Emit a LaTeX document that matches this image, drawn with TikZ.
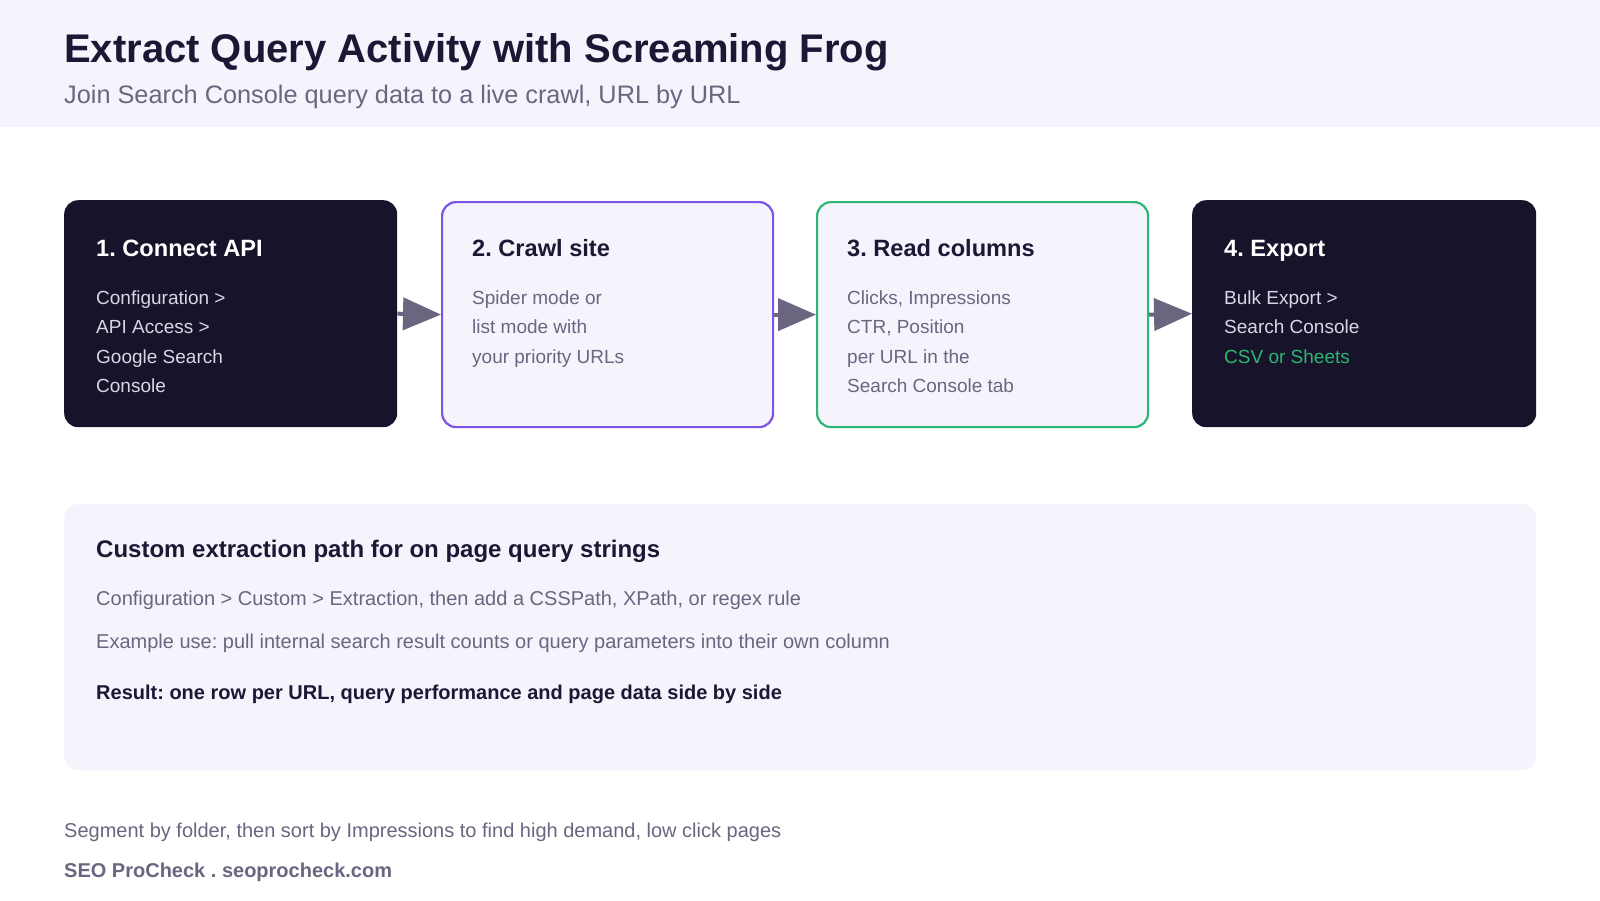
\documentclass[tikz,border=0pt]{standalone}
\usepackage{fontspec}
\setmainfont{Liberation Sans}
\usetikzlibrary{arrows.meta,positioning}
\definecolor{ink}{HTML}{16132A}
\definecolor{inkhead}{HTML}{1B1734}
\definecolor{mute}{HTML}{6B6580}
\definecolor{wash}{HTML}{F5F4FC}
\definecolor{pale}{HTML}{D9D6E6}
\definecolor{violet}{HTML}{7C55E6}
\definecolor{mint}{HTML}{2BB673}
\frenchspacing
\begin{document}
\begin{tikzpicture}[x=1pt,y=-1pt,line join=round,
  stepbox/.style={anchor=north west,inner sep=0pt,rounded corners=14pt,
    minimum width=333pt,minimum height=227pt},
  darkstep/.style={stepbox,fill=ink},
  lightstep/.style={stepbox,fill=wash,line width=2.2pt,
    minimum width=331pt,minimum height=225pt},
  stephead/.style={anchor=base west,inner sep=0pt,font=\fontsize{23.6}{28}\selectfont\bfseries},
  stepbody/.style={anchor=base west,inner sep=0pt,font=\fontsize{19}{23}\selectfont},
  note/.style={anchor=base west,inner sep=0pt,font=\fontsize{20}{24}\selectfont},
  flow/.style={mute,line width=4pt,-{Triangle[length=38pt,width=32pt]}}]
  \useasboundingbox (0,0) rectangle (1600,900);
  \fill[white] (0,0) rectangle (1600,900);
  \fill[wash] (0,0) rectangle (1600,127);
  % header
  \node[anchor=base west,inner sep=0pt,text=inkhead,font=\fontsize{40}{48}\selectfont\bfseries]
    (title) at (64,62) {Extract Query Activity with Screaming Frog};
  \node[anchor=base west,inner sep=0pt,text=mute,font=\fontsize{25.3}{30}\selectfont]
    (subtitle) at (64,103) {Join Search Console query data to a live crawl, URL by URL};
  % the four steps
  \node[darkstep] (connect) at (64,200) {};
  \node[lightstep,draw=violet] (crawl) at (441,201) {};
  \node[lightstep,draw=mint] (columns) at (816,201) {};
  \node[darkstep,minimum width=344pt] (export) at (1192,200) {};
  \node[stephead,text=white] at ([xshift=32pt,yshift=-56pt]connect.north west) {1. Connect API};
  \foreach \line [count=\i] in {Configuration >,API Access >,Google Search,Console}
    \node[stepbody,text=pale] at ([xshift=32pt,yshift={-104pt-29.5pt*(\i-1)}]connect.north west) {\line};
  \node[stephead,text=inkhead] at ([xshift=31pt,yshift=-55pt]crawl.north west) {2. Crawl site};
  \foreach \line [count=\i] in {Spider mode or,list mode with,your priority URLs}
    \node[stepbody,text=mute] at ([xshift=31pt,yshift={-103pt-29.5pt*(\i-1)}]crawl.north west) {\line};
  \node[stephead,text=inkhead] at ([xshift=31pt,yshift=-55pt]columns.north west) {3. Read columns};
  \foreach \line [count=\i] in {{Clicks, Impressions},{CTR, Position},per URL in the,Search Console tab}
    \node[stepbody,text=mute] at ([xshift=31pt,yshift={-103pt-29.5pt*(\i-1)}]columns.north west) {\line};
  \node[stephead,text=white] at ([xshift=32pt,yshift=-56pt]export.north west) {4. Export};
  \foreach \line [count=\i] in {Bulk Export >,Search Console,{\textcolor{mint}{CSV or Sheets}}}
    \node[stepbody,text=pale] at ([xshift=32pt,yshift={-104pt-29.5pt*(\i-1)}]export.north west) {\line};
  \draw[flow] (connect.east) -- (crawl.west);
  \draw[flow] (crawl.east) -- (columns.west);
  \draw[flow] (columns.east) -- (export.west);
  % custom extraction panel
  \node[anchor=north west,inner sep=0pt,fill=wash,rounded corners=14pt,
    minimum width=1472pt,minimum height=266pt] (extract) at (64,504) {};
  \node[stephead,text=inkhead,font=\fontsize{24}{28}\selectfont\bfseries]
    at ([xshift=32pt,yshift=-53pt]extract.north west)
    {Custom extraction path for on page query strings};
  \node[note,text=mute] at ([xshift=32pt,yshift=-101pt]extract.north west)
    {Configuration > Custom > Extraction, then add a CSSPath, XPath, or regex rule};
  \node[note,text=mute] at ([xshift=32pt,yshift=-144pt]extract.north west)
    {Example use: pull internal search result counts or query parameters into their own column};
  \node[note,text=inkhead,font=\fontsize{20}{24}\selectfont\bfseries]
    at ([xshift=32pt,yshift=-195pt]extract.north west)
    {Result: one row per URL, query performance and page data side by side};
  % footer
  \node[note,text=mute] (tip) at (64,837)
    {Segment by folder, then sort by Impressions to find high demand, low click pages};
  \node[note,text=mute,font=\fontsize{20}{24}\selectfont\bfseries] (brand) at (64,877)
    {SEO ProCheck . seoprocheck.com};
\end{tikzpicture}
\end{document}
